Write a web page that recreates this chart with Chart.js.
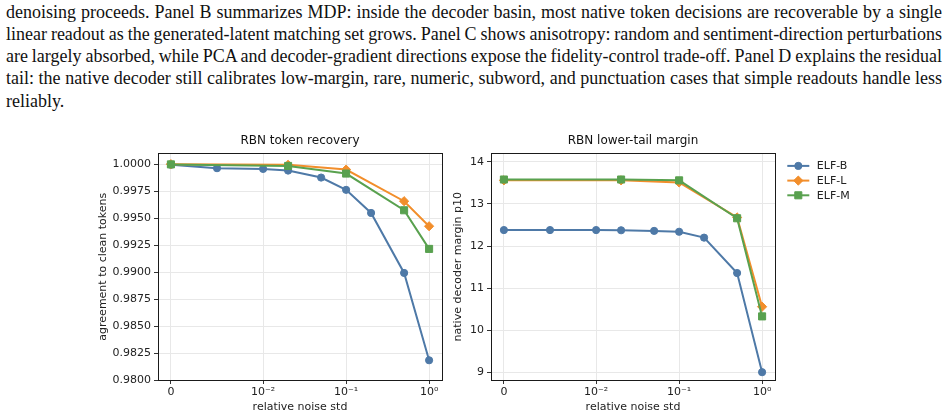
<!DOCTYPE html>
<html>
<head>
<meta charset="utf-8">
<script src="https://cdn.jsdelivr.net/npm/chart.js@4.4.1/dist/chart.umd.min.js"></script>
<style>
  body { margin: 0; background: #fff; width: 948px; height: 419px; overflow: hidden; position: relative; }
  #para { position: absolute; left: 6px; top: 0.5px; width: 936px; font-family: 'Liberation Serif', serif; font-size: 18px; line-height: 22.3px; color: #111; }
  #para div { white-space: nowrap; }
  canvas { position: absolute; }
  #c1 { left: 95px; top: 130px; }
  #c2 { left: 440px; top: 130px; }
</style>
</head>
<body>
<div id="para">
  <div class="j">denoising proceeds. Panel B summarizes MDP: inside the decoder basin, most native token decisions are recoverable by a single</div>
  <div class="j">linear readout as the generated-latent matching set grows. Panel C shows anisotropy: random and sentiment-direction perturbations</div>
  <div class="j">are largely absorbed, while PCA and decoder-gradient directions expose the fidelity-control trade-off. Panel D explains the residual</div>
  <div class="j">tail: the native decoder still calibrates low-margin, rare, numeric, subword, and punctuation cases that simple readouts handle less</div>
  <div>reliably.</div>
</div>
<canvas id="c1" width="355" height="289"></canvas>
<canvas id="c2" width="508" height="289"></canvas>
<script>
"use strict";

// --- data ---
const seriesNames = ['ELF-B', 'ELF-L', 'ELF-M'];

// relative noise std levels
const noiseB  = [0, 0.005, 0.01, 0.02, 0.05, 0.1, 0.2, 0.5, 1.0];
const noiseLM = [0, 0.02, 0.1, 0.5, 1.0];

// panel 1: agreement to clean tokens
const agreeB = [0.99995, 0.99963, 0.99956, 0.99941, 0.99876, 0.99762, 0.99548, 0.98992, 0.98183];
const agreeL = [1.00000, 0.99994, 0.99950, 0.99657, 0.99425];
const agreeM = [0.99998, 0.99984, 0.99913, 0.99573, 0.99215];

// panel 2: native decoder margin p10
const marginB = [12.38, 12.38, 12.38, 12.375, 12.36, 12.34, 12.20, 11.36, 9.005];
const marginL = [13.56, 13.56, 13.51, 12.68, 10.56];
const marginM = [13.58, 13.58, 13.56, 12.66, 10.33];

// x ticks
const xTickValues = [0, 0.01, 0.1, 1];
const xTickLabels = ['0', '10\u207B\u00B2', '10\u207B\u00B9', '10\u2070'];

const colors = ['#4e79a7', '#f28e2b', '#59a14f'];
const pointStyles = ['circle', 'rectRot', 'rect'];
const pointRadii = [3.6, 4.6, 5];

// --- symlog scale (linthresh 0.01, linscale 1, like matplotlib) ---
const LINTHRESH = 0.01;
const LINSCALE = 1 / (1 - 1 / 10);

function symlog(x) {
  const a = Math.abs(x);
  if (a <= LINTHRESH) return x / LINTHRESH * LINSCALE;
  return Math.sign(x) * (LINSCALE + Math.log10(a / LINTHRESH));
}
function symlogInv(u) {
  const a = Math.abs(u);
  if (a <= LINSCALE) return u * LINTHRESH / LINSCALE;
  return Math.sign(u) * LINTHRESH * Math.pow(10, a - LINSCALE);
}

class SymlogScale extends Chart.LinearScale {
  buildTicks() {
    return xTickValues.map(v => ({ value: v }));
  }
  configure() {
    super.configure();
    this._uMin = symlog(this.min);
    this._uMax = symlog(this.max);
  }
  getPixelForValue(value) {
    return this.getPixelForDecimal((symlog(value) - this._uMin) / (this._uMax - this._uMin));
  }
  getValueForPixel(pixel) {
    return symlogInv(this._uMin + this.getDecimalForPixel(pixel) * (this._uMax - this._uMin));
  }
}
SymlogScale.id = 'symlog';
SymlogScale.defaults = {};
Chart.register(SymlogScale);

Chart.defaults.font.family = "'DejaVu Sans', sans-serif";
Chart.defaults.font.size = 11;
Chart.defaults.color = '#222';

// 5% margins in transformed space
const xMin = symlogInv(-0.05 * symlog(1));
const xMax = symlogInv(1.05 * symlog(1));

function makePoints(xs, ys) {
  return xs.map((x, i) => ({ x: x, y: ys[i] }));
}

function makeDatasets(lists) {
  return lists.map((pts, i) => ({
    label: seriesNames[i],
    data: pts,
    borderColor: colors[i],
    backgroundColor: colors[i],
    borderWidth: 2,
    pointStyle: pointStyles[i],
    pointRadius: pointRadii[i],
    pointBorderWidth: 1,
    pointBorderColor: colors[i],
    pointBackgroundColor: colors[i],
    order: 2 - i,
    tension: 0
  }));
}

// full box around the axes, like matplotlib spines
const framePlugin = {
  id: 'frame',
  afterDatasetsDraw(chart) {
    const a = chart.chartArea;
    const ctx = chart.ctx;
    ctx.save();
    ctx.strokeStyle = '#1a1a1a';
    ctx.lineWidth = 1;
    ctx.strokeRect(Math.round(a.left) + 0.5, Math.round(a.top) + 0.5,
                   Math.round(a.right - a.left), Math.round(a.bottom - a.top));
    ctx.restore();
  }
};

const legendPlugin = {
  id: 'sideLegend',
  afterDraw(chart, args, opts) {
    if (!opts.show) return;
    const ctx = chart.ctx;
    const a = chart.chartArea;
    const x0 = a.right + 12.3;
    ctx.save();
    chart.data.datasets.forEach((ds, i) => {
      const y = a.top + 12.5 + i * 14.7;
      ctx.strokeStyle = ds.borderColor;
      ctx.fillStyle = ds.borderColor;
      ctx.lineWidth = 2;
      ctx.beginPath();
      ctx.moveTo(x0, y);
      ctx.lineTo(x0 + 22, y);
      ctx.stroke();
      ctx.lineWidth = 1;
      Chart.helpers.drawPoint(ctx, { pointStyle: ds.pointStyle, radius: ds.pointRadius, rotation: 0, borderWidth: 1 }, x0 + 11, y);
      ctx.fillStyle = '#222';
      ctx.font = "11px 'DejaVu Sans'";
      ctx.textBaseline = 'middle';
      ctx.fillText(ds.label, x0 + 29.5, y + 0.5);
    });
    ctx.restore();
  }
};

function makeChart(id, title, yTitle, datasets, yOpts, yWidth, yTitlePad, padRight, showLegend) {
  return new Chart(document.getElementById(id), {
    type: 'line',
    data: { datasets: datasets },
    plugins: [framePlugin, legendPlugin],
    options: {
      responsive: false,
      animation: false,
      devicePixelRatio: 1,
      layout: { padding: { left: 0, right: padRight, top: 0, bottom: 0 } },
      plugins: {
        legend: { display: false },
        tooltip: { enabled: false },
        title: {
          display: true, text: title, fullSize: false,
          font: { size: 12, weight: 'normal' }, color: '#111',
          padding: { top: 4, bottom: 5 }
        },
        sideLegend: { show: showLegend }
      },
      scales: {
        x: {
          type: 'symlog',
          min: xMin, max: xMax,
          afterFit(s) { s.height = 39; },
          border: { display: false },
          grid: { color: '#e8e8e8', tickColor: '#333', tickLength: 4, lineWidth: 1 },
          ticks: { padding: 2, maxRotation: 0, autoSkip: false, callback: (v, i) => xTickLabels[i] },
          title: { display: true, text: 'relative noise std', padding: { top: 0, bottom: 5.4 }, font: { size: 11 } }
        },
        y: Object.assign({
          afterFit(s) { s.width = yWidth; },
          border: { display: false },
          grid: { color: '#e8e8e8', tickColor: '#333', tickLength: 4, lineWidth: 1 },
          title: { display: true, text: yTitle, padding: { top: yTitlePad, bottom: 0 }, font: { size: 11 } }
        }, yOpts)
      }
    }
  });
}

makeChart('c1', 'RBN token recovery', 'agreement to clean tokens',
  makeDatasets([makePoints(noiseB, agreeB), makePoints(noiseLM, agreeL), makePoints(noiseLM, agreeM)]),
  { min: 0.98, max: 1.001, ticks: { stepSize: 0.0025, includeBounds: false, padding: 3, callback: v => v.toFixed(4) } },
  63, 1.7, 8, false);

makeChart('c2', 'RBN lower-tail margin', 'native decoder margin p10',
  makeDatasets([makePoints(noiseB, marginB), makePoints(noiseLM, marginL), makePoints(noiseLM, marginM)]),
  { min: 8.82, max: 14.2, ticks: { stepSize: 1, includeBounds: false, padding: 3, callback: v => String(v) } },
  51, 11.7, 173, true);

// justify each paragraph line to the full width
document.querySelectorAll('#para .j').forEach(div => {
  const span = document.createElement('span');
  span.textContent = div.textContent.trim();
  div.textContent = '';
  div.appendChild(span);
  const w = span.getBoundingClientRect().width;
  const gaps = (span.textContent.match(/ /g) || []).length;
  if (gaps) div.style.wordSpacing = ((936 - w) / gaps) + 'px';
});
</script>
</body>
</html>
